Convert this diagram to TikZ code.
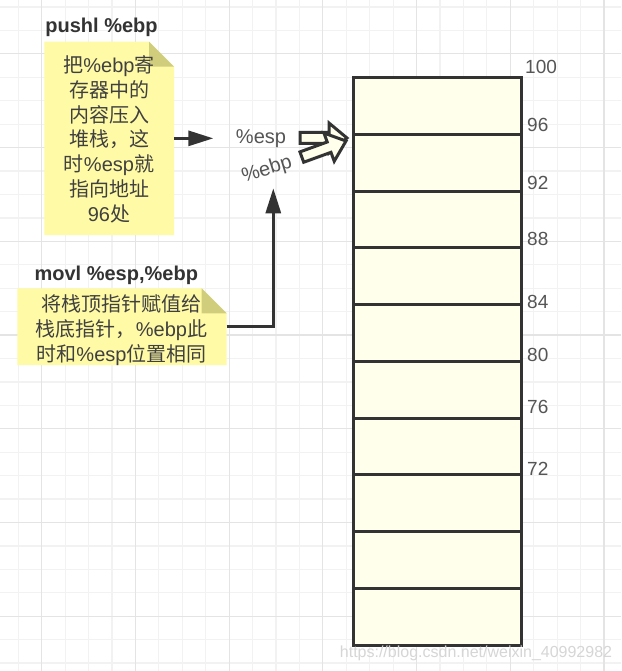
\documentclass[tikz,border=0pt]{standalone}
\usepackage{fontspec}
\setmainfont{Liberation Sans}
\newfontfamily\cjk{Noto Sans CJK SC}
\newcommand\zh[1]{{\cjk #1}}
\usetikzlibrary{arrows.meta,calc}
\definecolor{gridminor}{RGB}{242,242,242}
\definecolor{gridmajor}{RGB}{228,228,228}
\definecolor{ink}{RGB}{51,51,51}
\definecolor{txt}{RGB}{64,64,64}
\definecolor{lbl}{RGB}{85,85,85}
\definecolor{notefill}{RGB}{255,250,165}
\definecolor{notefold}{RGB}{208,205,125}
\definecolor{cellfill}{RGB}{255,255,236}
\definecolor{wm}{RGB}{214,214,214}
\tikzset{
  notebox/.style={inner sep=0pt,outer sep=0pt},
  notetext/.style={inner sep=0pt,align=center,text=txt,font=\fontsize{20}{24.7}\selectfont},
  title/.style={inner sep=0pt,text=ink,font=\fontsize{20}{24}\selectfont\bfseries},
  cell/.style={draw=ink,line width=3pt,fill=cellfill,minimum width=168pt,minimum height=56.73pt,inner sep=0pt,outer sep=0pt},
  addr/.style={inner sep=0pt,anchor=west,text=lbl,font=\fontsize{19}{22}\selectfont},
  reg/.style={inner sep=0pt,text=lbl,font=\fontsize{20}{24}\selectfont},
  conn/.style={draw=ink,line width=3pt,-{Triangle[length=25pt,width=15pt]}},
  blockarrow/.style={draw=ink,line width=3pt,fill=cellfill,line join=miter},
  gmin/.style={draw=gridminor,line width=1.2pt},
  gmaj/.style={draw=gridmajor,line width=1.2pt}
}
\begin{document}
\begin{tikzpicture}[x=1pt,y=-1pt]
\useasboundingbox (0,0) rectangle (621,671);
\fill[white] (0,0) rectangle (621,671);
% grid
\foreach \i in {-1,...,24} \draw[gmin] ({41.7+23.43*\i},0) -- ({41.7+23.43*\i},671);
\foreach \i in {-2,...,26} \draw[gmin] (0,{53.9+23.43*\i}) -- (621,{53.9+23.43*\i});
\foreach \i in {0,4,...,24} \draw[gmaj] ({41.7+23.43*\i},0) -- ({41.7+23.43*\i},671);
\foreach \i in {0,4,...,24} \draw[gmaj] (0,{53.9+23.43*\i}) -- (621,{53.9+23.43*\i});

% note 1
\node[notebox,minimum width=129.7pt,minimum height=193.3pt] (n1) at (109.15,138.35) {};
\fill[notefill] (n1.north west) -- ($(n1.north east)+(-25,0)$) -- ($(n1.north east)+(0,25)$) -- (n1.south east) -- (n1.south west) -- cycle;
\fill[notefold] ($(n1.north east)+(-25,0)$) -- ($(n1.north east)+(0,25)$) -- ($(n1.north east)+(-25,25)$) -- cycle;
\node[title] (h1) at (101.5,27.3) {pushl \%ebp};
\node[notetext] (t1) at (109,139.3) {\zh{把}\%ebp\zh{寄}\\\zh{存器中的}\\\zh{内容压入}\\\zh{堆栈，这}\\\zh{时}\%esp\zh{就}\\\zh{指向地址}\\96\zh{处}};

% note 2
\node[notebox,minimum width=209.4pt,minimum height=76.7pt] (n2) at (122,326.65) {};
\fill[notefill] (n2.north west) -- ($(n2.north east)+(-25,0)$) -- ($(n2.north east)+(0,25)$) -- (n2.south east) -- (n2.south west) -- cycle;
\fill[notefold] ($(n2.north east)+(-25,0)$) -- ($(n2.north east)+(0,25)$) -- ($(n2.north east)+(-25,25)$) -- cycle;
\node[title] (h2) at (116.3,275) {movl \%esp,\%ebp};
\node[notetext,font=\fontsize{20}{25}\selectfont] (t2) at (121.5,330) {\zh{将栈顶指针赋值给}\\\zh{栈底指针，}\%ebp\zh{此}\\\zh{时和}\%esp\zh{位置相同}};

% register labels
\node[reg] (esp) at (261,138.5) {\%esp};
\node[reg,rotate=17] (ebp) at (267,170) {\%ebp};

% connectors
\coordinate (a1) at (213.3,138.35);
\draw[conn] (n1.east) -- (a1);
\coordinate (a2) at (273.3,188.3);
\draw[conn] (n2.east) -| (a2);

% stack
\foreach \i in {0,...,9} \node[cell] (c\i) at (437.3,{77.7+56.73*\i+28.365}) {};

% addresses
\node[addr] (l100) at (525,66.7) {100};
\node[addr] (l96) at (527,125) {96};
\node[addr] (l92) at (527,182.7) {92};
\node[addr] (l88) at (527,239.3) {88};
\node[addr] (l84) at (527,302.3) {84};
\node[addr] (l80) at (527,355) {80};
\node[addr] (l76) at (527,406.7) {76};
\node[addr] (l72) at (527,469.3) {72};

% block arrows
\begin{scope}[shift={(347,138)}]
\draw[blockarrow] (-47,-5.5) -- (-18,-5.5) -- (-18,-15) -- (0,0) -- (-18,15) -- (-18,5.5) -- (-47,5.5) -- cycle;
\end{scope}
\begin{scope}[shift={(346,141)},rotate=20]
\draw[blockarrow] (-47,-5.5) -- (-18,-5.5) -- (-18,-15) -- (0,0) -- (-18,15) -- (-18,5.5) -- (-47,5.5) -- cycle;
\end{scope}

% watermark
\node[inner sep=0pt,text=wm,font=\fontsize{16}{18}\selectfont] (wmk) at (476,653) {https://blog.csdn.net/weixin\_40992982};
\end{tikzpicture}
\end{document}
